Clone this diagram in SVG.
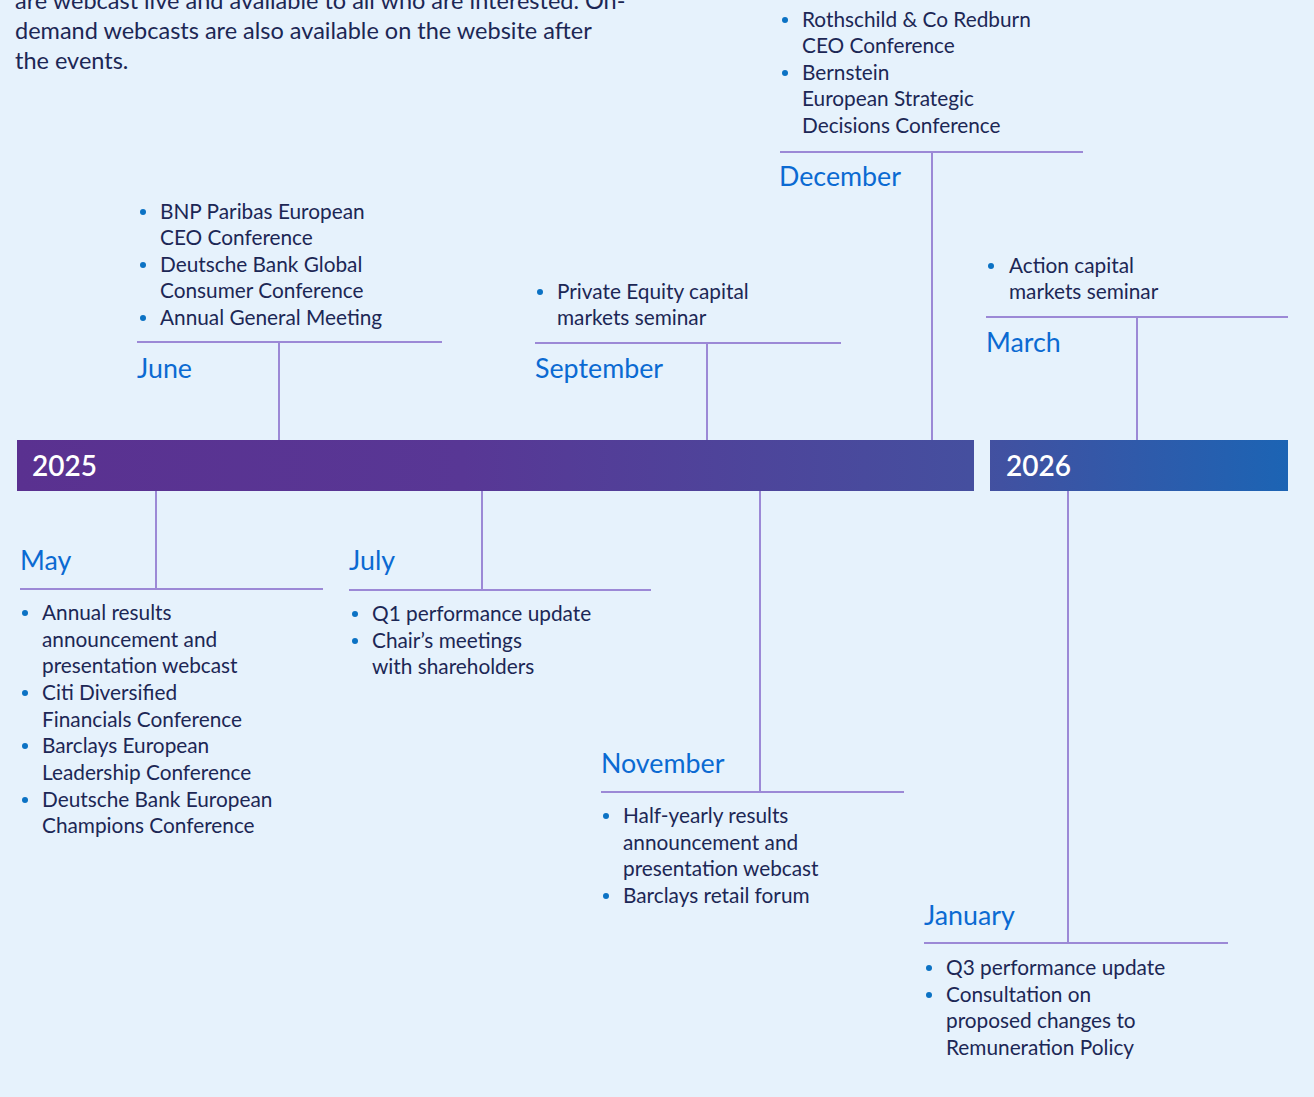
<svg xmlns="http://www.w3.org/2000/svg" width="1314" height="1097" viewBox="0 0 1314 1097">
  <style>
    .intro { font-family: Lato, "Noto Sans", "Liberation Sans", sans-serif; font-size: 23.5px; fill: #1c2755; }
    .item { font-family: Lato, "Noto Sans", "Liberation Sans", sans-serif; font-size: 20.8px; fill: #1c2755; }
    .month { font-family: Lato, "Noto Sans", "Liberation Sans", sans-serif; font-size: 26.8px; fill: #0b6ad2; }
    .year { font-family: Lato, "Noto Sans", "Liberation Sans", sans-serif; font-size: 28px; font-weight: 600; fill: #ffffff; }
    .dot { fill: #0b72c4; }
    .conn { stroke: #9c89d6; stroke-width: 2; fill: none; }
  </style>
  <defs>
    <linearGradient id="barGrad" gradientUnits="userSpaceOnUse" x1="17" y1="0" x2="1288" y2="0">
      <stop offset="0" stop-color="#5a3190"/>
      <stop offset="0.35" stop-color="#583795"/>
      <stop offset="0.75" stop-color="#454f9f"/>
      <stop offset="1" stop-color="#1c64b4"/>
    </linearGradient>
  </defs>

  <rect width="1314" height="1097" fill="#e6f2fc"/>

  <!-- introductory paragraph (first line runs off the top) -->
  <g id="intro">
    <text class="intro" x="15" y="9">are webcast live and available to all who are interested. On-</text>
    <text class="intro" x="15" y="39">demand webcasts are also available on the website after</text>
    <text class="intro" x="15" y="69">the events.</text>
  </g>

  <!-- connectors: vertical stems and horizontal rules -->
  <g id="connectors" class="conn">
    <path d="M279 342V440M137 342H442"/>
    <path d="M707 343V440M535 343H841"/>
    <path d="M932 152V440M780 152H1083"/>
    <path d="M1137 317V440M986 317H1288"/>
    <path d="M156 491V589M20 589H323"/>
    <path d="M482 491V590M349 590H651"/>
    <path d="M760 491V792M601 792H904"/>
    <path d="M1068 491V943M924 943H1228"/>
  </g>

  <!-- year bars -->
  <g id="year-2025">
    <rect x="17" y="440" width="957" height="51" fill="url(#barGrad)"/>
    <text class="year" x="32" y="476">2025</text>
  </g>
  <g id="year-2026">
    <rect x="990" y="440" width="298" height="51" fill="url(#barGrad)"/>
    <text class="year" x="1006" y="476">2026</text>
  </g>

  <g id="june">
    <text class="month" x="137" y="378">June</text>
    <circle class="dot" cx="143" cy="212" r="3"/>
    <text class="item" x="160" y="219">BNP Paribas European</text>
    <text class="item" x="160" y="245">CEO Conference</text>
    <circle class="dot" cx="143" cy="265" r="3"/>
    <text class="item" x="160" y="272">Deutsche Bank Global</text>
    <text class="item" x="160" y="298">Consumer Conference</text>
    <circle class="dot" cx="143" cy="318" r="3"/>
    <text class="item" x="160" y="325">Annual General Meeting</text>
  </g>

  <g id="september">
    <text class="month" x="535" y="378">September</text>
    <circle class="dot" cx="540" cy="292" r="3"/>
    <text class="item" x="557" y="299">Private Equity capital</text>
    <text class="item" x="557" y="325">markets seminar</text>
  </g>

  <g id="december">
    <text class="month" x="779" y="186">December</text>
    <circle class="dot" cx="785" cy="20" r="3"/>
    <text class="item" x="802" y="27">Rothschild &amp; Co Redburn</text>
    <text class="item" x="802" y="53">CEO Conference</text>
    <circle class="dot" cx="785" cy="73" r="3"/>
    <text class="item" x="802" y="80">Bernstein</text>
    <text class="item" x="802" y="106">European Strategic</text>
    <text class="item" x="802" y="133">Decisions Conference</text>
  </g>

  <g id="march">
    <text class="month" x="986" y="352">March</text>
    <circle class="dot" cx="991" cy="266" r="3"/>
    <text class="item" x="1009" y="273">Action capital</text>
    <text class="item" x="1009" y="299">markets seminar</text>
  </g>

  <g id="may">
    <text class="month" x="20" y="570">May</text>
    <circle class="dot" cx="25" cy="613" r="3"/>
    <text class="item" x="42" y="620">Annual results</text>
    <text class="item" x="42" y="647">announcement and</text>
    <text class="item" x="42" y="673">presentation webcast</text>
    <circle class="dot" cx="25" cy="693" r="3"/>
    <text class="item" x="42" y="700">Citi Diversified</text>
    <text class="item" x="42" y="727">Financials Conference</text>
    <circle class="dot" cx="25" cy="746" r="3"/>
    <text class="item" x="42" y="753">Barclays European</text>
    <text class="item" x="42" y="780">Leadership Conference</text>
    <circle class="dot" cx="25" cy="800" r="3"/>
    <text class="item" x="42" y="807">Deutsche Bank European</text>
    <text class="item" x="42" y="833">Champions Conference</text>
  </g>

  <g id="july">
    <text class="month" x="349" y="570">July</text>
    <circle class="dot" cx="355" cy="614" r="3"/>
    <text class="item" x="372" y="621">Q1 performance update</text>
    <circle class="dot" cx="355" cy="641" r="3"/>
    <text class="item" x="372" y="648">Chair’s meetings</text>
    <text class="item" x="372" y="674">with shareholders</text>
  </g>

  <g id="november">
    <text class="month" x="601" y="773">November</text>
    <circle class="dot" cx="606" cy="816" r="3"/>
    <text class="item" x="623" y="823">Half-yearly results</text>
    <text class="item" x="623" y="850">announcement and</text>
    <text class="item" x="623" y="876">presentation webcast</text>
    <circle class="dot" cx="606" cy="896" r="3"/>
    <text class="item" x="623" y="903">Barclays retail forum</text>
  </g>

  <g id="january">
    <text class="month" x="924" y="925">January</text>
    <circle class="dot" cx="929" cy="968" r="3"/>
    <text class="item" x="946" y="975">Q3 performance update</text>
    <circle class="dot" cx="929" cy="995" r="3"/>
    <text class="item" x="946" y="1002">Consultation on</text>
    <text class="item" x="946" y="1028">proposed changes to</text>
    <text class="item" x="946" y="1055">Remuneration Policy</text>
  </g>
</svg>
